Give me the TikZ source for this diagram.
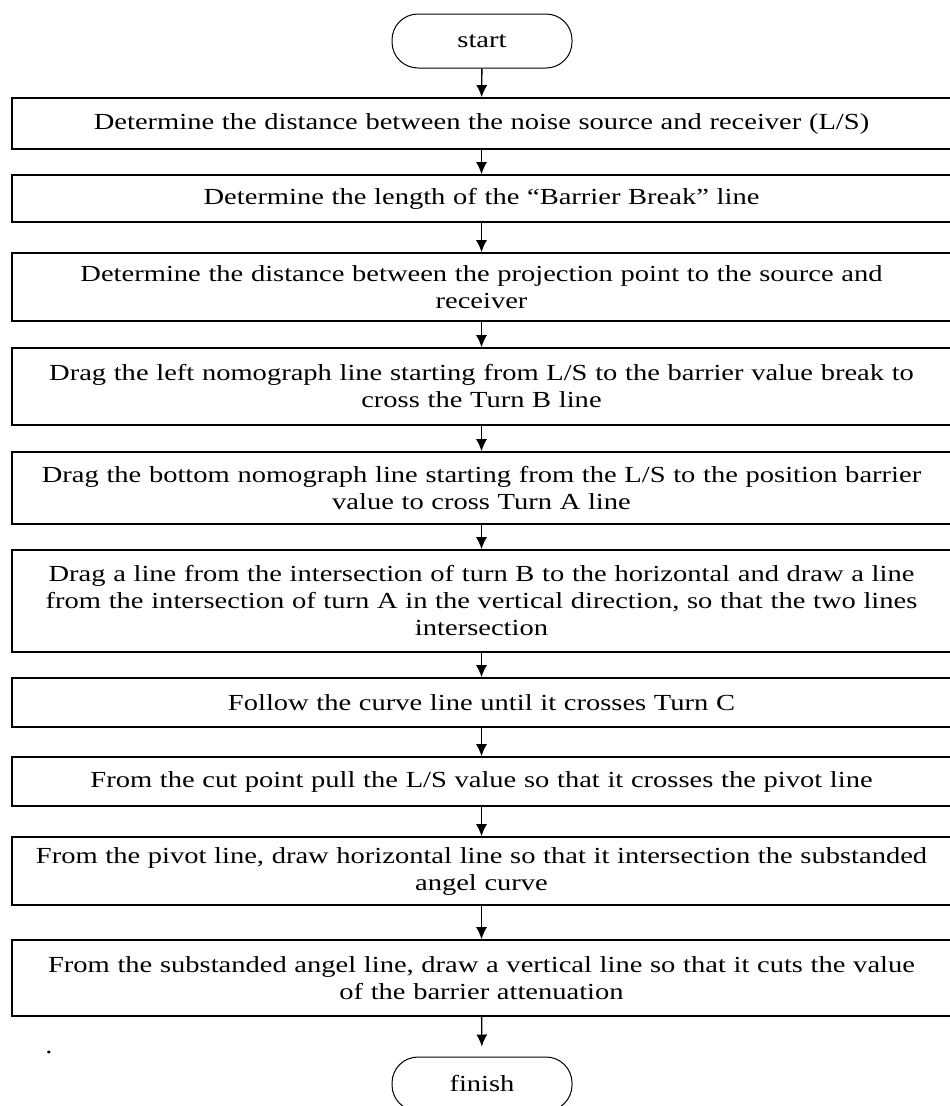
\documentclass[tikz,border=0pt]{standalone}
\usepackage{fontspec}
\setmainfont[FakeStretch=1.24]{Liberation Serif}
\usetikzlibrary{arrows.meta,positioning}
\tikzset{
  stepbox/.style={draw, line width=1.6pt, minimum width=939pt, text width=925pt,
    align=center, inner sep=0pt, font=\fontsize{23}{27}\selectfont},
  term/.style={draw, line width=1pt, rounded corners=26pt, minimum width=180pt,
    minimum height=54pt, inner sep=0pt, font=\fontsize{23}{27}\selectfont},
  flow/.style={line width=1.4pt, -{Latex[length=12pt,width=11pt]}}
}

\begin{document}
\begin{tikzpicture}[x=1pt,y=-1pt]

                % Page frame.
                \useasboundingbox (0,0) rectangle (950,1106);

                % Terminals.
                \node[term] (start) at (482,41) {start};
                \node[term] (finish) at (482,1084) {finish};

                % Steps.
                \node[stepbox, minimum height=51pt] (s1) at (481.5,123.5)
                    {Determine the distance between the noise source and receiver (L/S)};
                \node[stepbox, minimum height=47pt] (s2) at (481.5,198.5)
                    {Determine the length of the “Barrier Break” line};
                \node[stepbox, minimum height=68pt] (s3) at (481.5,287)
                    {Determine the distance between the projection point to the source and\\ receiver};
                \node[stepbox, minimum height=77pt] (s4) at (481.5,386.5)
                    {Drag the left nomograph line starting from L/S to the barrier value break to\\ cross the Turn B line};
                \node[stepbox, minimum height=72pt] (s5) at (481.5,488)
                    {Drag the bottom nomograph line starting from the L/S to the position barrier\\ value to cross Turn A line};
                \node[stepbox, minimum height=102pt] (s6) at (481.5,601)
                    {Drag a line from the intersection of turn B to the horizontal and draw a line\\ from the intersection of  turn A in the vertical direction, so that the two lines\\ intersection};
                \node[stepbox, minimum height=49pt] (s7) at (481.5,702.5)
                    {Follow the curve line until it crosses Turn C};
                \node[stepbox, minimum height=49pt] (s8) at (481.5,781.5)
                    {From the cut point pull the L/S value so that it crosses the pivot line};
                \node[stepbox, minimum height=68pt] (s9) at (481.5,871)
                    {From the pivot line, draw horizontal line so that it intersection the substanded\\ angel curve};
                \node[stepbox, minimum height=76pt] (s10) at (481.5,978)
                    {From the substanded angel line, draw a vertical line so that it cuts the value\\ of the barrier attenuation};

                % Stray mark.
                \node[font=\fontsize{23}{27}\selectfont] (dot) at (49,1052) {.};

                % Arrows.
                \draw[flow] (start) -- (s1);
                \draw[flow] (s1) -- (s2);
                \draw[flow] (s2) -- (s3);
                \draw[flow] (s3) -- (s4);
                \draw[flow] (s4) -- (s5);
                \draw[flow] (s5) -- (s6);
                \draw[flow] (s6) -- (s7);
                \draw[flow] (s7) -- (s8);
                \draw[flow] (s8) -- (s9);
                \draw[flow] (s9) -- (s10);
                \draw[flow, shorten >=10pt] (s10) -- (finish);
\end{tikzpicture}
\end{document}
